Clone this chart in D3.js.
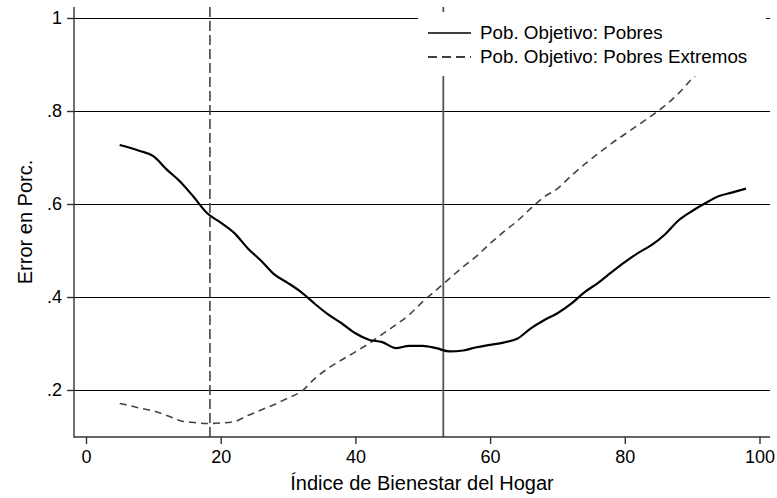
<!DOCTYPE html>
<html>
<head>
<meta charset="utf-8">
<script src="https://cdn.jsdelivr.net/npm/d3@7"></script>
<style>
  body { margin: 0; background: #fff; }
  svg { display: block; }
  text { font-family: "Liberation Sans", Arial, Helvetica, sans-serif; fill: #000; }
</style>
</head>
<body>
<svg id="chart" width="777" height="498"></svg>
<script>
// ---- Data ----
const indice = [5,6,8,10,12,14,16,18,20,22,24,26,28,30,32,34,36,38,40,42,44,46,48,50,52,54,56,58,60,62,64,66,68,70,72,74,76,78,80,82,84,86,88,90,92,94,96,98];
const pobres = [0.727,0.723,0.714,0.703,0.674,0.648,0.615,0.58,0.56,0.538,0.505,0.478,0.448,0.43,0.41,0.385,0.362,0.343,0.322,0.308,0.303,0.29,0.295,0.295,0.29,0.283,0.285,0.292,0.297,0.302,0.31,0.332,0.35,0.365,0.385,0.41,0.43,0.453,0.475,0.495,0.512,0.535,0.565,0.585,0.602,0.617,0.625,0.633];
const pobresExtremos = [0.171,0.168,0.161,0.155,0.145,0.134,0.13,0.128,0.129,0.132,0.145,0.157,0.169,0.183,0.197,0.225,0.247,0.265,0.282,0.3,0.32,0.34,0.362,0.39,0.415,0.44,0.465,0.488,0.515,0.54,0.563,0.59,0.615,0.633,0.66,0.685,0.708,0.73,0.75,0.77,0.79,0.812,0.838,0.87,0.897,0.92,0.945,0.97];
const cutoffExtremos = 18.4;
const cutoffPobres = 53.05;
const xTicks = [0,20,40,60,80,100];
const yTicks = [0.2,0.4,0.6,0.8,1];
const legendLabels = ["Pob. Objetivo: Pobres", "Pob. Objetivo: Pobres Extremos"];
const xTitle = "Índice de Bienestar del Hogar";
const yTitle = "Error en Porc.";

// ---- Layout ----
const svg = d3.select("#chart");
const plot = {left: 74, right: 770, top: 7, bottom: 437};
const x = d3.scaleLinear().domain([0, 100]).range([86, 759.5]);
const y = d3.scaleLinear().domain([0.2, 1]).range([390, 18]);

const fmtY = d => d === 1 ? "1" : d3.format(".1f")(d).replace(/^0/, "");

// gridlines
svg.append("g").selectAll("line").data(yTicks).join("line")
  .attr("x1", plot.left).attr("x2", plot.right)
  .attr("y1", d => y(d) + 0.5).attr("y2", d => y(d) + 0.5)
  .attr("stroke", "#000").attr("stroke-width", 1.2);

// reference lines
svg.append("line")
  .attr("x1", x(cutoffExtremos)).attr("x2", x(cutoffExtremos))
  .attr("y1", plot.top).attr("y2", plot.bottom)
  .attr("stroke", "#444").attr("stroke-width", 1.6)
  .attr("stroke-dasharray", "10,4");
svg.append("line")
  .attr("x1", x(cutoffPobres)).attr("x2", x(cutoffPobres))
  .attr("y1", plot.top).attr("y2", plot.bottom)
  .attr("stroke", "#555").attr("stroke-width", 1.8);

// series
const line = (vals) => d3.line().curve(d3.curveMonotoneX)
  .x((d, i) => x(indice[i])).y(d => y(d))(vals);
svg.append("path").attr("d", line(pobresExtremos))
  .attr("fill", "none").attr("stroke", "#444").attr("stroke-width", 1.6)
  .attr("stroke-dasharray", "7,5");
svg.append("path").attr("d", line(pobres))
  .attr("fill", "none").attr("stroke", "#000").attr("stroke-width", 2.2)
  .attr("stroke-linejoin", "round");

// legend
const lg = svg.append("g");
lg.append("rect").attr("x", 418).attr("y", 12).attr("width", 348).attr("height", 64).attr("fill", "#fff");
const rows = [39, 63];
lg.append("line").attr("x1", 428).attr("x2", 471).attr("y1", rows[0] - 6).attr("y2", rows[0] - 6)
  .attr("stroke", "#000").attr("stroke-width", 1.6);
lg.append("line").attr("x1", 428).attr("x2", 471).attr("y1", rows[1] - 6).attr("y2", rows[1] - 6)
  .attr("stroke", "#000").attr("stroke-width", 1.6).attr("stroke-dasharray", "9,5");
lg.selectAll("text").data(legendLabels).join("text")
  .attr("x", 480).attr("y", (d, i) => rows[i])
  .attr("font-size", 18.8).text(d => d);

// axes
const yAxis = svg.append("g").attr("transform", `translate(${plot.left},0)`)
  .call(d3.axisLeft(y).tickValues(yTicks).tickFormat(fmtY).tickSize(7).tickPadding(5));
const xAxis = svg.append("g").attr("transform", `translate(0,${plot.bottom})`)
  .call(d3.axisBottom(x).tickValues(xTicks).tickFormat(d3.format("d")).tickSize(7).tickPadding(6));
[yAxis, xAxis].forEach(g => {
  g.select(".domain").remove();
  g.selectAll(".tick line").attr("stroke", "#333").attr("stroke-width", 1.4);
  g.selectAll(".tick text").attr("font-size", 18).attr("font-family", '"Liberation Sans", Arial, sans-serif').attr("fill", "#000");
});
svg.append("line").attr("x1", plot.left).attr("x2", plot.left).attr("y1", plot.top).attr("y2", plot.bottom + 0.7)
  .attr("stroke", "#333").attr("stroke-width", 1.4);
svg.append("line").attr("x1", plot.left).attr("x2", plot.right).attr("y1", plot.bottom).attr("y2", plot.bottom)
  .attr("stroke", "#333").attr("stroke-width", 1.4);

// titles
svg.append("text").attr("x", (plot.left + plot.right) / 2).attr("y", 490)
  .attr("text-anchor", "middle").attr("font-size", 20).text(xTitle);
svg.append("text").attr("transform", `translate(32,${(plot.top + plot.bottom) / 2}) rotate(-90)`)
  .attr("text-anchor", "middle").attr("font-size", 20).text(yTitle);
</script>
</body>
</html>
